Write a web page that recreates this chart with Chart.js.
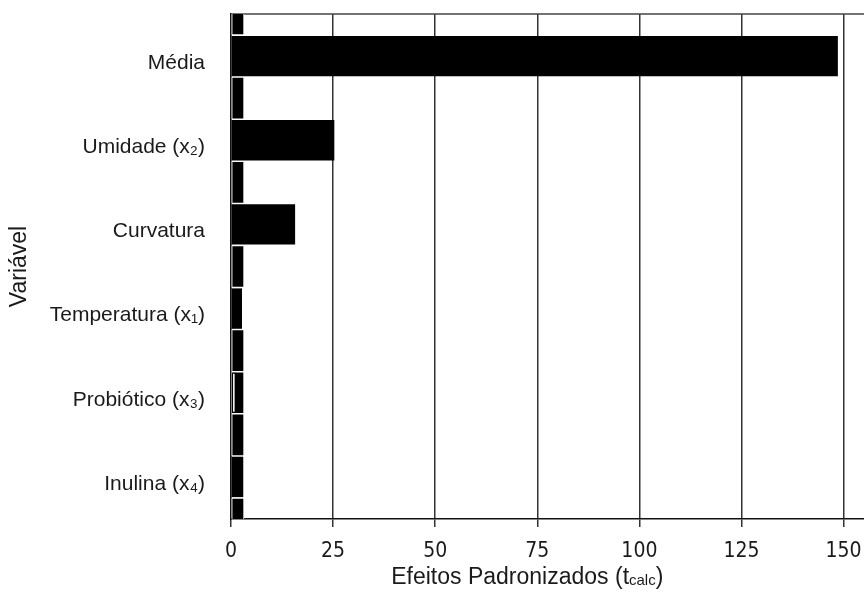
<!DOCTYPE html>
<html>
<head>
<meta charset="utf-8">
<script src="https://cdn.jsdelivr.net/npm/chart.js@4/dist/chart.umd.min.js"></script>
<style>
  html, body { margin: 0; padding: 0; background: #fff; }
  #wrap { width: 864px; height: 592px; }
</style>
</head>
<body>
<div id="wrap"><canvas id="c" width="864" height="592"></canvas></div>
<script>
// Standardized effects (t calc) for each term of the model
const variables = ['Média', 'Umidade (x₂)', 'Curvatura', 'Temperatura (x₁)', 'Probiótico (x₃)', 'Inulina (x₄)'];
const tCalc = [148.6, 25.3, 15.7, 2.7, 1.2, 3.0];

// Tabulated t reference bars, placed on half-step rows between the terms
const refRows = ['r0', 'r1', 'r2', 'r3', 'r4', 'r5', 'r6', 'r7', 'r8', 'r9', 'r10', 'r11', 'r12'];
const tTab = [3.18, null, 3.18, null, 3.18, null, 3.18, null, 3.18, 3.18, 3.18, null, 3.18];

// Value axis
const xTicks = [0, 25, 50, 75, 100, 125, 150];
const xMax = 155;

const FONT = "'Liberation Sans', Arial, Helvetica, sans-serif";
const NARROW = "'Liberation Sans Narrow', 'DejaVu Sans Condensed', Arial, sans-serif";
const INK = '#1a1a1a';

// Frame line along the top of the plot area, and the x title with its subscript
const framePlugin = {
  id: 'frameAndTitle',
  beforeDatasetsDraw(chart) {
    const { ctx, chartArea } = chart;
    ctx.save();
    ctx.strokeStyle = '#444';
    ctx.lineWidth = 1.5;
    ctx.beginPath();
    ctx.moveTo(chartArea.left, chartArea.top);
    ctx.lineTo(chartArea.right, chartArea.top);
    ctx.stroke();
    ctx.restore();
  },
  afterDraw(chart) {
    const { ctx } = chart;
    const xs = chart.scales.x;
    const main = 'Efeitos Padronizados (t';
    const sub = 'calc';
    const close = ')';
    ctx.save();
    ctx.fillStyle = INK;
    ctx.textBaseline = 'alphabetic';
    const bigFont = '23px ' + FONT;
    const smallFont = '15px ' + FONT;
    ctx.font = bigFont;
    const w1 = ctx.measureText(main).width;
    const w3 = ctx.measureText(close).width;
    ctx.font = smallFont;
    const w2 = ctx.measureText(sub).width;
    const total = w1 + w2 + w3;
    const cx = xs.getPixelForValue(xTicks[3]) - 10;
    const baseY = xs.bottom - 8;
    let x = cx - total / 2;
    ctx.textAlign = 'left';
    ctx.font = bigFont;
    ctx.fillText(main, x, baseY);
    x += w1;
    ctx.font = smallFont;
    ctx.fillText(sub, x, baseY + 1);
    x += w2;
    ctx.font = bigFont;
    ctx.fillText(close, x, baseY);
    ctx.restore();
  }
};

new Chart(document.getElementById('c'), {
  type: 'bar',
  data: {
    labels: variables,
    datasets: [
      {
        label: 'tcalc',
        data: tCalc,
        yAxisID: 'y',
        grouped: false,
        order: 0,
        backgroundColor: ['#000', '#000', '#000', '#000', '#fff', '#000'],
        borderColor: '#000',
        borderWidth: [0, 0, 0, 0, 1.3, 0],
        borderSkipped: false,
        categoryPercentage: 1,
        barPercentage: 0.48
      },
      {
        label: 'ttab',
        data: tTab,
        yAxisID: 'yRef',
        grouped: false,
        order: 1,
        backgroundColor: '#000',
        borderColor: '#fff',
        borderWidth: 1,
        borderSkipped: false,
        categoryPercentage: 1,
        barPercentage: 1
      }
    ]
  },
  options: {
    indexAxis: 'y',
    responsive: false,
    animation: false,
    devicePixelRatio: 1,
    layout: { autoPadding: false, padding: { top: 14, right: 0, bottom: 0, left: 0 } },
    plugins: {
      legend: { display: false },
      tooltip: { enabled: false }
    },
    scales: {
      x: {
        type: 'linear',
        min: 0,
        max: xMax,
        afterBuildTicks(scale) {
          scale.ticks = xTicks.map(v => ({ value: v }));
        },
        afterFit(scale) {
          scale.height = 73;
          scale.paddingLeft = 0;
          scale.paddingRight = 0;
        },
        ticks: {
          stepSize: 25,
          includeBounds: false,
          color: INK,
          padding: 12,
          maxRotation: 0,
          font: { family: NARROW, size: 21 }
        },
        grid: {
          color: '#333',
          lineWidth: 1.5,
          drawTicks: true,
          tickLength: 8,
          tickColor: '#333'
        },
        border: { display: true, color: '#111', width: 1.5 }
      },
      y: {
        type: 'category',
        offset: true,
        afterFit(scale) {
          scale.width = 231;
          scale.paddingTop = 0;
          scale.paddingBottom = 0;
        },
        ticks: {
          color: INK,
          padding: 26,
          labelOffset: 7,
          font: { family: FONT, size: 21 }
        },
        grid: { display: false, drawTicks: false },
        border: { display: true, color: '#111', width: 1.5 },
        title: {
          display: true,
          text: 'Variável',
          color: INK,
          padding: { top: 6, bottom: 0 },
          font: { family: FONT, size: 23 }
        }
      },
      yRef: {
        type: 'category',
        labels: refRows,
        offset: false,
        display: false,
        grid: { display: false }
      }
    }
  },
  plugins: [framePlugin]
});
</script>
</body>
</html>
